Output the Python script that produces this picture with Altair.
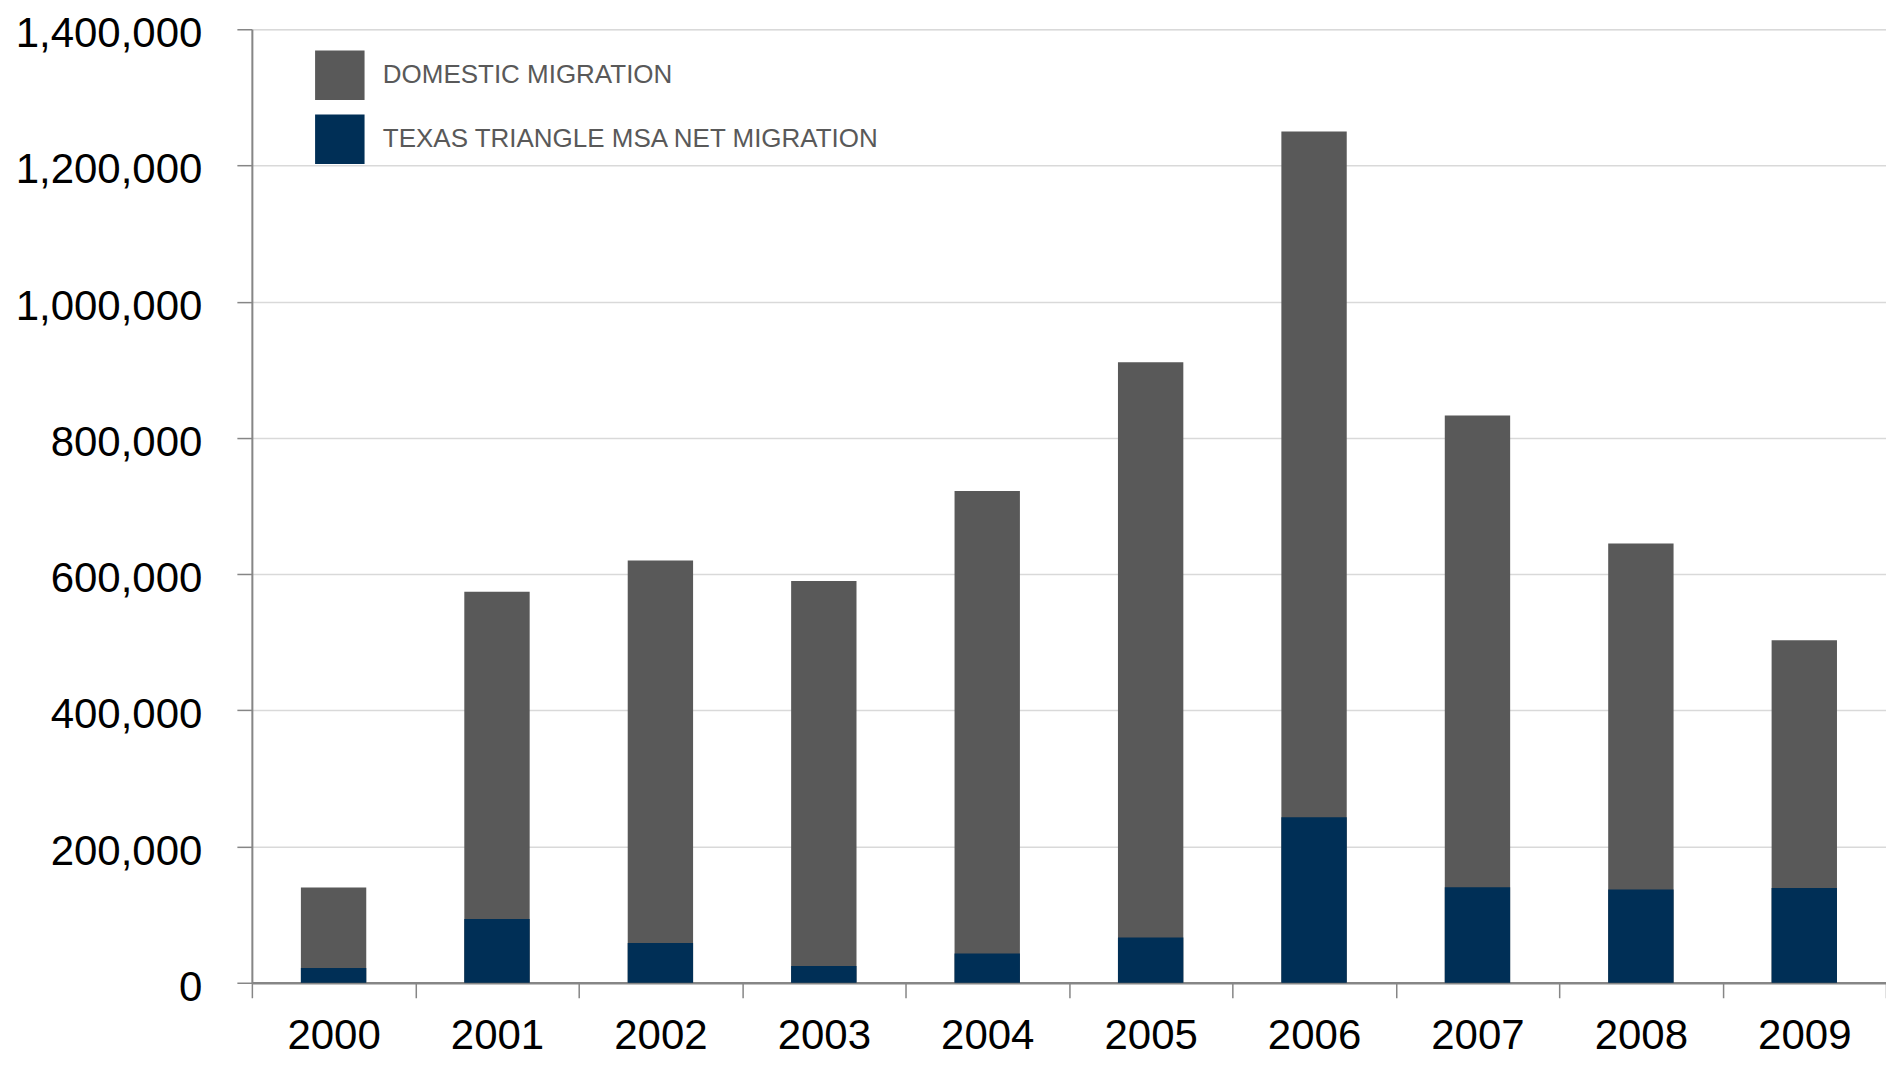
import altair as alt
import pandas as pd

years = ["2000", "2001", "2002", "2003", "2004", "2005", "2006", "2007", "2008", "2009"]
domestic = [140000, 574000, 620000, 590000, 722000, 911000, 1250000, 833000, 645000, 503000]
texas = [21600, 93500, 58300, 24500, 43000, 66500, 243000, 140400, 137000, 139000]
series_names = ["DOMESTIC MIGRATION", "TEXAS TRIANGLE MSA NET MIGRATION"]
series_colors = ["#595959", "#002f56"]
y_ticks = [0, 200000, 400000, 600000, 800000, 1000000, 1200000, 1400000]

rows = []
for i, y in enumerate(years):
    rows.append({"year": y, "series": series_names[0], "value": domestic[i], "ord": 0})
for i, y in enumerate(years):
    rows.append({"year": y, "series": series_names[1], "value": texas[i], "ord": 1})
df = pd.DataFrame(rows)

FONT = "Liberation Sans"
AXIS_COLOR = "#868686"

chart = alt.Chart(df).mark_bar(width=alt.RelativeBandSize(0.4)).encode(
    x=alt.X(
        "year:O",
        sort=years,
        scale=alt.Scale(paddingInner=0, paddingOuter=0),
        axis=alt.Axis(
            title=None,
            labelAngle=0,
            tickBand="extent",
            labelFont=FONT,
            labelFontSize=42,
            labelColor="#000000",
            labelBaseline="alphabetic",
            labelPadding=51,
            labelLimit=0,
            tickSize=15,
            tickColor=AXIS_COLOR,
            tickWidth=1.5,
            domainColor=AXIS_COLOR,
            domainWidth=2.5,
            grid=False,
        ),
    ),
    y=alt.Y(
        "value:Q",
        stack=None,
        scale=alt.Scale(domain=[0, 1400000], nice=False),
        axis=alt.Axis(
            title=None,
            values=y_ticks,
            format=",d",
            labelFont=FONT,
            labelFontSize=42,
            labelColor="#000000",
            labelBaseline="alphabetic",
            labelOffset=17.5,
            labelPadding=35,
            labelLimit=0,
            tickSize=15,
            tickColor=AXIS_COLOR,
            tickWidth=1.5,
            domainColor=AXIS_COLOR,
            domainWidth=2,
            grid=True,
            gridColor="#d9d9d9",
            gridWidth=1.5,
        ),
    ),
    color=alt.Color(
        "series:N",
        scale=alt.Scale(domain=series_names, range=series_colors),
        legend=alt.Legend(
            title=None,
            orient="none",
            legendX=63,
            legendY=21,
            symbolType="square",
            symbolSize=2450,
            symbolStrokeWidth=0,
            symbolOpacity=1,
            labelFont=FONT,
            labelFontSize=26,
            labelColor="#595959",
            labelOffset=18,
            labelLimit=0,
            rowPadding=14,
            padding=0,
        ),
    ),
    order=alt.Order("ord:Q"),
).properties(
    width=1635,
    height=954,
    autosize=alt.AutoSizeParams(type="none"),
    padding={"left": 244, "top": 21, "right": 0, "bottom": 75},
).configure_view(stroke=None).configure(background="#ffffff")

chart.save("out.html", embed_options={"renderer": "svg", "actions": False})
